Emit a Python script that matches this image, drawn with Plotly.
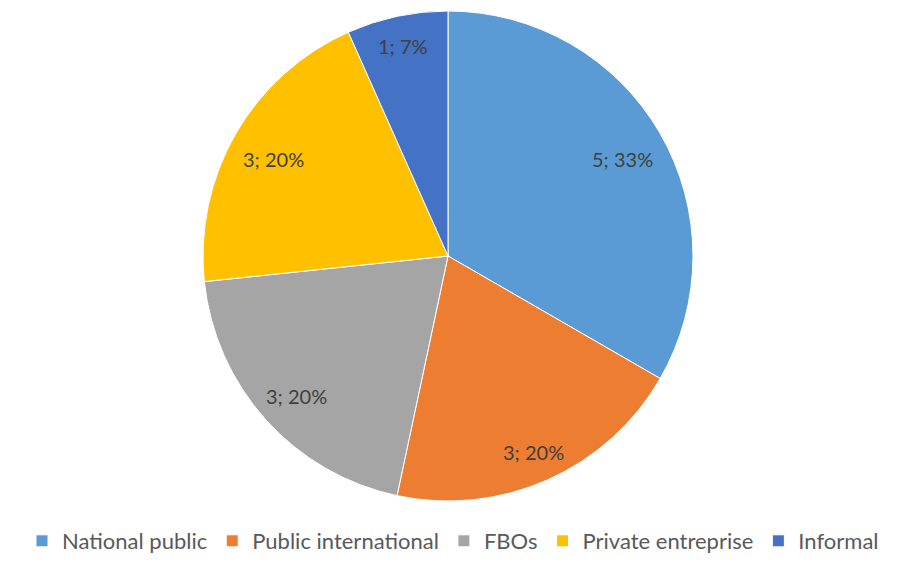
import math
import plotly.graph_objects as go

categories = ["National public", "Public international", "FBOs", "Private entreprise", "Informal"]
values = [5, 3, 3, 3, 1]
colors = ["#5B9BD5", "#ED7D31", "#A5A5A5", "#FFC000", "#4472C4"]

# The page body has an 8px default margin; the figure is sized to fill the rest of the window.
OFF = 8
W, H = 898 - OFF, 562 - OFF
CX, CY, R = 448.0 - OFF, 256.0 - OFF, 245.0  # pie centre/radius in figure pixels

fig = go.Figure(go.Pie(
    labels=categories,
    values=values,
    sort=False,
    direction="clockwise",
    rotation=0,
    domain=dict(x=[(CX - R) / W, (CX + R) / W], y=[1 - (CY + R) / H, 1 - (CY - R) / H]),
    marker=dict(colors=colors, line=dict(color="white", width=1)),
    textinfo="none",
    hoverinfo="label+value+percent",
))

# Data labels "value; percent", placed near the outer end of each slice (Excel style)
total = sum(values)
cum = 0
annotations = []
RL = 0.955 * R
for cat, v in zip(categories, values):
    mid = (cum + v / 2.0) / total * 360.0
    cum += v
    ang = math.radians(90 - mid)
    c, s = math.cos(ang), math.sin(ang)
    pct = round(v / total * 100)
    txt = f"{v}; {pct}%"
    hw, hh = 5.4 * len(txt), 9.0
    k = abs(c) * hw + abs(s) * hh
    r = -k + math.sqrt(k * k - (hw * hw + hh * hh - RL * RL))
    px, py = CX + r * c, CY - r * s + 3.5
    annotations.append(dict(
        x=px / W, y=1 - py / H, xref="paper", yref="paper",
        text=txt, showarrow=False, xanchor="center", yanchor="middle",
        font=dict(family="Lato, Carlito, sans-serif", size=20, color="#404040"),
    ))

fig.update_layout(
    width=W, height=H,
    margin=dict(l=0, r=0, t=0, b=0, autoexpand=False),
    paper_bgcolor="white", plot_bgcolor="white",
    annotations=annotations,
    showlegend=True,
    legend=dict(
        orientation="h", x=0.5, xanchor="center", y=0, yanchor="bottom",
        font=dict(family="Lato, Carlito, sans-serif", size=22, color="#595959"),
        itemwidth=30, traceorder="normal",
    ),
)

fig.write_html("out.html", config={"displayModeBar": False})
